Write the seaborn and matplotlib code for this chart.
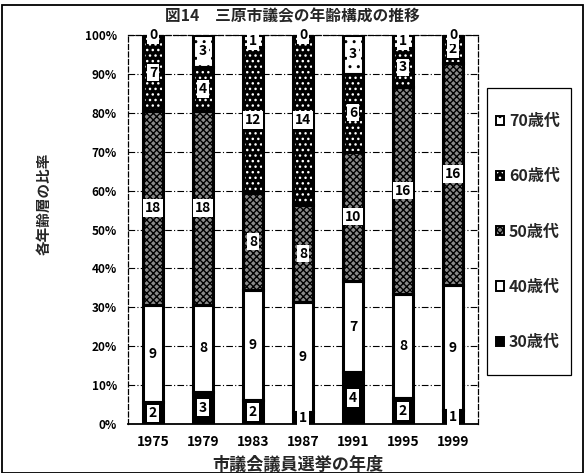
import matplotlib
matplotlib.use("Agg")
import matplotlib.pyplot as plt
import numpy as np
import pandas as pd
import seaborn as sns
from matplotlib.patches import Patch, Rectangle
from matplotlib.legend_handler import HandlerTuple

# Council members by age group at each election (head counts)
years = ["1975", "1979", "1983", "1987", "1991", "1995", "1999"]
groups = ["30歳代", "40歳代", "50歳代", "60歳代", "70歳代"]
age30 = [2, 3, 2, 1, 4, 2, 1]
age40 = [9, 8, 9, 9, 7, 8, 9]
age50 = [18, 18, 8, 8, 10, 16, 16]
age60 = [7, 4, 12, 14, 6, 3, 2]
age70 = [0, 3, 1, 0, 3, 1, 0]
ytick_labels = [f"{v}%" for v in range(0, 101, 10)]

counts = pd.DataFrame(dict(zip(groups, [age30, age40, age50, age60, age70])), index=years)
share = counts.div(counts.sum(axis=1), axis=0) * 100
cum = share.cumsum(axis=1)
base = cum - share

sns.set_theme(style="white")
plt.rcParams["font.family"] = ["Noto Sans CJK JP", "DejaVu Sans"]
plt.rcParams["hatch.linewidth"] = 1.0

W, H = 586, 473
fig = plt.figure(figsize=(W / 100, H / 100), dpi=100)
ax = fig.add_axes([128 / W, 1 - 424 / H, 350 / W, 389 / H])

styles = {
    "30歳代": dict(face="black", hatch=None, hc="black"),
    "40歳代": dict(face="white", hatch=None, hc="white"),
    "50歳代": dict(face="#8a8a8a", hatch="xxxxx", hc="black"),
    "60歳代": dict(face="black", hatch="...", hc="white"),
    "70歳代": dict(face="white", hatch="..", hc="black"),
}

# stacked segments: fill and pattern first, then black outlines on top
for g in groups:
    st = styles[g]
    seg = pd.DataFrame({"year": years, "share": share[g].values})
    sns.barplot(data=seg, x="year", y="share", bottom=base[g].values,
                color=st["face"], saturation=1, width=0.4, errorbar=None,
                edgecolor=st["hc"], linewidth=0, hatch=st["hatch"], ax=ax, zorder=2)
for g in groups:
    seg = pd.DataFrame({"year": years, "share": share[g].values})
    n0 = len(ax.patches)
    sns.barplot(data=seg, x="year", y="share", bottom=base[g].values,
                color="white", saturation=1, width=0.4, errorbar=None,
                edgecolor="black", linewidth=2.2, ax=ax, zorder=3)
    for p in ax.patches[n0:]:
        p.set_facecolor("none")

# head-count labels in the middle of each segment
for g in groups:
    for i, y in enumerate(years):
        mid = base.loc[y, g] + share.loc[y, g] / 2
        ax.text(i, mid, str(counts.loc[y, g]), ha="center", va="center",
                fontsize=10, fontweight="bold", color="black", zorder=5,
                bbox=dict(boxstyle="square,pad=0.12", fc="white", ec="none"))

ax.set_xlim(-0.5, len(years) - 0.5)
ax.set_ylim(0, 100)
ax.set_yticks(range(0, 101, 10))
ax.set_yticklabels(ytick_labels, fontsize=8.5, fontweight="bold")
for lbl in ax.get_xticklabels():
    lbl.set_fontweight("bold")
    lbl.set_fontsize(10)
ax.set_xlabel("")
ax.set_ylabel("")
ax.tick_params(axis="y", length=0, pad=8, colors="black")
ax.tick_params(axis="x", which="major", length=0, pad=8, colors="black")
ax.set_xticks(np.arange(len(years) - 1) + 0.5, minor=True)
ax.tick_params(axis="x", which="minor", direction="in", length=3, width=1, color="black")

ax.yaxis.grid(True, linestyle=(0, (6, 2, 1, 2)), color="black", linewidth=0.8)
ax.set_axisbelow(True)
for side in ["left", "right", "top"]:
    ax.spines[side].set_linestyle((0, (4, 2)))
    ax.spines[side].set_linewidth(0.9)
    ax.spines[side].set_color("black")
ax.spines["bottom"].set_linewidth(1.3)
ax.spines["bottom"].set_color("black")

# legend, top group first, inside its own box
handles = []
for g in groups[::-1]:
    st = styles[g]
    fill = Patch(facecolor=st["face"], hatch=st["hatch"], edgecolor=st["hc"], linewidth=0)
    edge = Patch(facecolor="none", edgecolor="black", linewidth=1.4)
    handles.append((fill, edge))
leg = fig.legend(handles, groups[::-1], loc="center",
                 bbox_to_anchor=(528 / W, 1 - 231.5 / H),
                 handler_map={tuple: HandlerTuple(ndivide=1)},
                 frameon=False, prop=dict(size=11.5, weight="bold"),
                 handlelength=0.5, handleheight=0.5, handletextpad=0.3,
                 labelspacing=2.45, borderpad=0)
fig.patches.append(Rectangle((487 / W, 1 - 375 / H), 84 / W, 287 / H,
                             transform=fig.transFigure, fill=False,
                             edgecolor="black", linewidth=0.9))

fig.text(292 / W, 1 - 16 / H, "図14　三原市議会の年齢構成の推移", ha="center", va="center",
         fontsize=11.3, fontweight="bold")
fig.text(298 / W, 1 - 465 / H, "市議会議員選挙の年度", ha="center", va="center",
         fontsize=12.3, fontweight="bold")
fig.text(44 / W, 1 - 204 / H, "各年齢層の比率", ha="center", va="center",
         rotation=90, fontsize=10.5, fontweight="bold")

fig.patches.append(Rectangle((2 / W, 0.5 / H), 581 / W, (H - 5.5) / H,
                             transform=fig.transFigure, fill=False,
                             edgecolor="black", linewidth=1.3))

fig.savefig("out.png", dpi=100)
